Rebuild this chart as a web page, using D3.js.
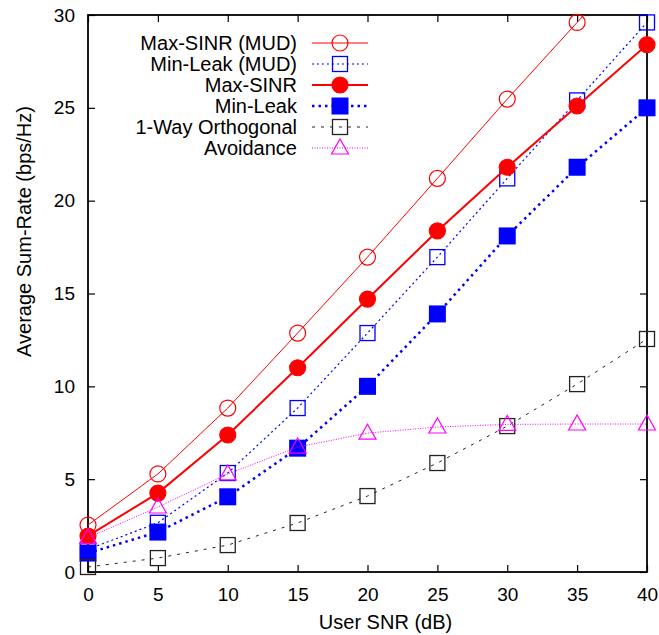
<!DOCTYPE html>
<meta charset="utf-8">

<script src="https://d3js.org/d3.v7.min.js"></script>

<style type="text/css">

    body { margin: 0; background: #fff; }

    text {
        font-family: "Liberation Sans", Arial, sans-serif;
        font-size: 20px;
        fill: #000;
    }

</style>

<body>
</body>

<script>

// Data

var snr = [0, 5, 10, 15, 20, 25, 30, 35, 40];

var maxSinrMud = [2.53, 5.28, 8.83, 12.87, 16.96, 21.2, 25.47, 29.6, 33.8];
var minLeakMud = [1.22, 2.65, 5.33, 8.83, 12.87, 16.96, 21.2, 25.4, 29.6];
var maxSinr    = [1.94, 4.25, 7.38, 11.0, 14.7, 18.37, 21.8, 25.1, 28.4];
var minLeak    = [1.02, 2.15, 4.05, 6.67, 10.0, 13.9, 18.1, 21.8, 25.0];
var oneWay     = [0.27, 0.75, 1.45, 2.64, 4.09, 5.87, 7.86, 10.12, 12.55];
var avoidance  = [1.85, 3.5, 5.28, 6.73, 7.48, 7.81, 7.95, 7.97, 7.97];

var seriesNames = ["Max-SINR (MUD)", "Min-Leak (MUD)", "Max-SINR", "Min-Leak", "1-Way Orthogonal", "Avoidance"];

var xTicks = [0, 5, 10, 15, 20, 25, 30, 35, 40];
var yTicks = [0, 5, 10, 15, 20, 25, 30];

// styles for each series (same order as names)
var styles = [
    {values: maxSinrMud, color: "#ff0000", width: 1,   dash: null,    mark: "circle", fill: false},
    {values: minLeakMud, color: "#0000ff", width: 1.2, dash: "2,3",   mark: "square", fill: false},
    {values: maxSinr,    color: "#ff0000", width: 2,   dash: null,    mark: "circle", fill: true},
    {values: minLeak,    color: "#0000ff", width: 2.5, dash: "2.5,4", mark: "square", fill: true},
    {values: oneWay,     color: "#222222", width: 1,   dash: "3,6",   mark: "square", fill: false},
    {values: avoidance,  color: "#ff00ff", width: 1,   dash: "1,1.5", mark: "triangle", fill: false}
];

var margin = {top: 15, right: 12, bottom: 63, left: 88};
var width = 659 - margin.left - margin.right;
var height = 635 - margin.top - margin.bottom;

var svg = d3.select("body").append("svg")
    .attr("width", 659)
    .attr("height", 635)
    .append("g")
    .attr("transform", "translate(" + margin.left + "," + margin.top + ")");

var xScale = d3.scaleLinear().domain([0, 40]).range([0, width]);
var yScale = d3.scaleLinear().domain([0, 30]).range([height, 0]);

svg.append("clipPath")
    .attr("id", "plotClip")
    .append("rect")
    .attr("width", width)
    .attr("height", height);

// axes: ticks point inward, mirrored on top and right
var tickLen = 7;

var xAxis = svg.append("g")
    .attr("transform", "translate(0," + height + ")")
    .call(d3.axisBottom(xScale).tickValues(xTicks).tickSize(-tickLen).tickPadding(16));

var xAxisTop = svg.append("g")
    .call(d3.axisTop(xScale).tickValues(xTicks).tickSize(-tickLen).tickFormat(""));

var yAxis = svg.append("g")
    .call(d3.axisLeft(yScale).tickValues(yTicks).tickSize(-tickLen).tickPadding(13));

var yAxisRight = svg.append("g")
    .attr("transform", "translate(" + width + ",0)")
    .call(d3.axisRight(yScale).tickValues(yTicks).tickSize(-tickLen).tickFormat(""));

svg.selectAll(".domain").remove();
svg.selectAll(".tick line").attr("stroke", "#000").attr("stroke-width", 1.2);
svg.selectAll(".tick text")
    .style("font-family", '"Liberation Sans", Arial, sans-serif')
    .style("font-size", "19px")
    .attr("fill", "#000");

// plot border
svg.append("rect")
    .attr("width", width)
    .attr("height", height)
    .attr("fill", "none")
    .attr("stroke", "#000")
    .attr("stroke-width", 1.8);

// axis titles
svg.append("text")
    .attr("x", width / 2 + 18)
    .attr("y", height + 57)
    .attr("text-anchor", "middle")
    .text("User SNR (dB)");

svg.append("text")
    .attr("transform", "translate(-57," + (height / 2 - 62) + ") rotate(-90)")
    .attr("text-anchor", "middle")
    .text("Average Sum-Rate (bps/Hz)");

function drawMark(g, st, x, y) {
    var stroke = st.color;
    var fill = st.fill ? st.color : "none";
    if (st.mark == "circle") {
        g.append("circle")
            .attr("cx", x).attr("cy", y).attr("r", 8)
            .attr("fill", fill).attr("stroke", stroke).attr("stroke-width", 1.2);
    } else if (st.mark == "square") {
        var s = st.fill ? 17 : 15;
        g.append("rect")
            .attr("x", x - s / 2).attr("y", y - s / 2)
            .attr("width", s).attr("height", s)
            .attr("fill", fill).attr("stroke", st.fill ? "none" : stroke).attr("stroke-width", 1.3);
    } else {
        g.append("path")
            .attr("d", "M" + (x - 8.5) + "," + (y + 6) + "L" + (x + 8.5) + "," + (y + 6) + "L" + x + "," + (y - 9) + "Z")
            .attr("fill", fill).attr("stroke", stroke).attr("stroke-width", 1.2);
    }
}

var line = d3.line()
    .x(function(d, i) { return xScale(snr[i]); })
    .y(function(d) { return yScale(d); });

styles.forEach(function(st) {
    var g = svg.append("g");
    g.append("path")
        .attr("d", line(st.values))
        .attr("clip-path", "url(#plotClip)")
        .attr("fill", "none")
        .attr("stroke", st.color)
        .attr("stroke-width", st.width)
        .attr("stroke-dasharray", st.dash);
    st.values.forEach(function(v, i) {
        if (v <= 30) drawMark(g, st, xScale(snr[i]), yScale(v));
    });
});

// legend
var legend = svg.append("g").attr("transform", "translate(" + (297 - margin.left) + ",0)");

seriesNames.forEach(function(name, i) {
    var st = styles[i];
    var y = 43 - margin.top + i * 21;
    legend.append("text")
        .attr("x", 0)
        .attr("y", y)
        .attr("dy", "0.35em")
        .attr("text-anchor", "end")
        .text(name);
    legend.append("line")
        .attr("x1", 15).attr("x2", 71)
        .attr("y1", y).attr("y2", y)
        .attr("stroke", st.color)
        .attr("stroke-width", st.width)
        .attr("stroke-dasharray", st.dash);
    drawMark(legend, st, 43, y);
});

</script>
